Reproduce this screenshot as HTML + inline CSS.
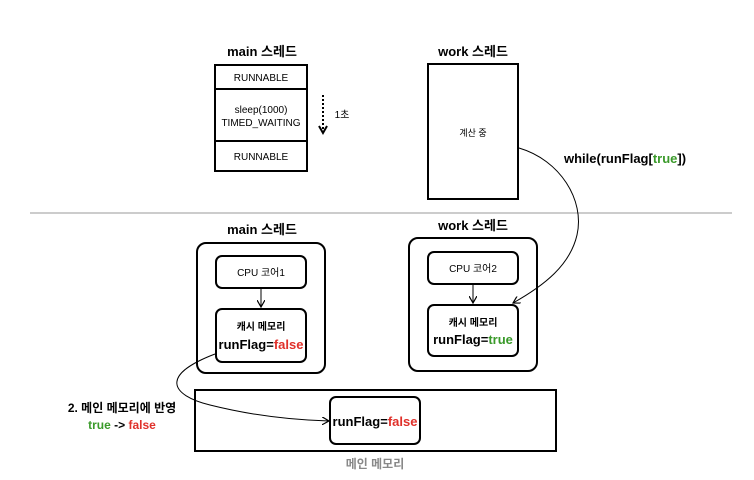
<!DOCTYPE html>
<html><head><meta charset="utf-8"><style>
body{margin:0;background:#fff;width:754px;height:475px;overflow:hidden}
svg text{font-family:"Liberation Sans","Noto Sans CJK KR",sans-serif}
</style></head><body>
<svg width="754" height="475" viewBox="0 0 754 475" xmlns="http://www.w3.org/2000/svg">
<defs><marker id="a" markerWidth="8" markerHeight="8" refX="7" refY="4" orient="auto" markerUnits="userSpaceOnUse"><path d="M0,0 L7,4 L0,8" fill="none" stroke="#000" stroke-width="1.2"/></marker></defs>
<g font-size="13" font-weight="bold" text-anchor="middle">
<text x="262" y="56">main 스레드</text>
<text x="473" y="56">work 스레드</text>
<text x="262" y="234">main 스레드</text>
<text x="473" y="230">work 스레드</text>
</g>
<g fill="none" stroke="#000" stroke-width="2">
<rect x="215" y="65" width="92" height="106"/>
<line x1="215" y1="89" x2="307" y2="89"/>
<line x1="215" y1="141" x2="307" y2="141"/>
<rect x="428" y="64" width="90" height="135"/>
</g>
<g font-size="10" text-anchor="middle">
<text x="261" y="81">RUNNABLE</text>
<text x="261" y="113">sleep(1000)</text>
<text x="261" y="126">TIMED_WAITING</text>
<text x="261" y="160">RUNNABLE</text>
<text x="473" y="136" font-size="9">계산 중</text>
<text x="342" y="118">1초</text>
</g>
<line x1="323" y1="95" x2="323" y2="130" stroke="#000" stroke-width="2" stroke-dasharray="2,2"/>
<path d="M319,126 L323,133 L327,126" fill="none" stroke="#000" stroke-width="2"/>
<text x="564" y="163" font-size="13" font-weight="bold">while(runFlag[<tspan fill="#3a9a2a">true</tspan>])</text>
<line x1="30" y1="213" x2="732" y2="213" stroke="#bbb" stroke-width="1.5"/>
<path d="M519,148 C560,160 585,200 577,235 C570,265 545,285 513,303" fill="none" stroke="#000" stroke-width="1" marker-end="url(#a)"/>
<g fill="none" stroke="#000" stroke-width="2">
<rect x="197" y="243" width="128" height="130" rx="9"/>
<rect x="216" y="256" width="90" height="32" rx="6"/>
<rect x="216" y="309" width="90" height="53" rx="6"/>
<rect x="409" y="238" width="128" height="133" rx="9"/>
<rect x="428" y="252" width="90" height="32" rx="6"/>
<rect x="428" y="305" width="90" height="51" rx="6"/>
<rect x="195" y="390" width="361" height="61"/>
<rect x="330" y="397" width="90" height="47" rx="6"/>
</g>
<line x1="261" y1="288" x2="261" y2="307" stroke="#000" stroke-width="1" marker-end="url(#a)"/>
<line x1="473" y1="284" x2="473" y2="303" stroke="#000" stroke-width="1" marker-end="url(#a)"/>
<path d="M215,354 C160,375 170,395 210,405 C250,415 290,420 329,421" fill="none" stroke="#000" stroke-width="1" marker-end="url(#a)"/>
<g text-anchor="middle">
<text x="261" y="276" font-size="10">CPU 코어1</text>
<text x="473" y="272" font-size="10">CPU 코어2</text>
<text x="261" y="330" font-size="10" font-weight="bold">캐시 메모리</text>
<text x="473" y="326" font-size="10" font-weight="bold">캐시 메모리</text>
<text x="261" y="349" font-size="13" font-weight="bold">runFlag=<tspan fill="#e0302a">false</tspan></text>
<text x="473" y="344" font-size="13" font-weight="bold">runFlag=<tspan fill="#3a9a2a">true</tspan></text>
<text x="375" y="426" font-size="13" font-weight="bold">runFlag=<tspan fill="#e0302a">false</tspan></text>
<text x="375" y="468" font-size="12" font-weight="bold" fill="#888">메인 메모리</text>
<text x="122" y="412" font-size="12" font-weight="bold">2. 메인 메모리에 반영</text>
<text x="122" y="429" font-size="12" font-weight="bold"><tspan fill="#3a9a2a">true</tspan> -&gt; <tspan fill="#e0302a">false</tspan></text>
</g>
</svg>
</body></html>
